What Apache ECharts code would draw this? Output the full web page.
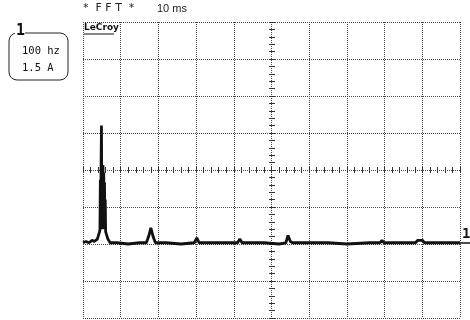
<!DOCTYPE html>
<html>
<head>
<meta charset="utf-8">
<script src="https://cdn.jsdelivr.net/npm/echarts@6.0.0/dist/echarts.min.js"></script>
<style>
  html, body { margin: 0; padding: 0; background: #fff; }
  #main { width: 470px; height: 320px; }
</style>
</head>
<body>
<div id="main"></div>
<script>
// FFT trace: frequency in Hz, amplitude in A (baseline = 0)
var freqs = [0, 8, 16, 24, 30, 34, 38, 42, 44,
             45, 46, 47, 48, 49, 50, 51, 52, 53, 54, 55, 56, 57, 58, 59, 60,
             62, 66, 72,
             90, 120, 150, 168, 174, 180, 186, 192, 220, 260, 295, 302, 308, 360, 410, 416, 422,
             480, 520, 538, 544, 550, 556, 600, 650, 700, 760, 788, 793, 798, 850, 882, 888, 900, 906, 950, 1000];
var amps = [0.05, 0.1, 0.05, 0.15, 0.1, 0.05, 0.2, 0.4, 0.5,
            0.6, 2.6, 0.7, 3.3, 4.8, 0.8, 3.1, 0.6, 3.2, 0.7, 2.9, 0.6, 2.5, 0.7, 1.8, 0.5,
            0.4, 0.2, 0.05,
            0.05, 0.0, 0.05, 0.05, 0.3, 0.65, 0.3, 0.05, 0.05, 0.0, 0.05, 0.25, 0.05, 0.05, 0.05, 0.2, 0.05,
            0.05, 0.0, 0.05, 0.35, 0.1, 0.05, 0.05, 0.05, 0.0, 0.05, 0.05, 0.15, 0.05, 0.05, 0.05, 0.15, 0.15, 0.05, 0.05, 0.05];

var xMin = 0, xMax = 1000, xStep = 100;     // 100 hz / div
var yMin = -3, yMax = 9, yStep = 1.5;       // 1.5 A / div

var headerText = '*  F F T  *';
var timeText = '10 ms';
var brandText = 'LeCroy';
var scaleLines = ['100 hz', '1.5 A'];
var channel = '1';

var myChart = echarts.init(document.getElementById('main'));

var gridColor = '#444';
var tickColor = '#333';

function tickAxis(pos, offset, inside, isX) {
    var ax = {
        type: 'value',
        min: isX ? xMin : yMin,
        max: isX ? xMax : yMax,
        interval: isX ? xStep : yStep,
        position: pos,
        offset: offset,
        axisLine: { show: false },
        axisTick: { show: true, inside: inside, length: 3, lineStyle: { color: tickColor, width: 1 } },
        minorTick: { show: true, splitNumber: 5, length: 3, lineStyle: { color: tickColor, width: 1 } },
        axisLabel: { show: false },
        splitLine: { show: false }
    };
    return ax;
}

var data = freqs.map(function (f, i) { return [f, amps[i]]; });

var option = {
    animation: false,
    backgroundColor: '#fff',
    grid: { left: 83, right: 10, top: 22, bottom: 2 },
    xAxis: [
        {
            type: 'value', min: xMin, max: xMax, interval: xStep,
            axisLine: { show: false }, axisTick: { show: false }, axisLabel: { show: false },
            splitLine: { show: true, lineStyle: { type: 'dotted', color: gridColor, width: 1 } }
        },
        tickAxis('top', -148, false, true),
        tickAxis('top', -148, true, true)
    ],
    yAxis: [
        {
            type: 'value', min: yMin, max: yMax, interval: yStep,
            axisLine: { show: false }, axisTick: { show: false }, axisLabel: { show: false },
            splitLine: { show: true, lineStyle: { type: 'dotted', color: gridColor, width: 1 } }
        },
        tickAxis('left', -189, false, false),
        tickAxis('left', -189, true, false)
    ],
    series: [{
        type: 'line',
        xAxisIndex: 0,
        yAxisIndex: 0,
        data: data,
        showSymbol: false,
        lineStyle: { color: '#111', width: 2.8 },
        z: 5
    }],
    graphic: [
        { type: 'text', left: 83, top: 3, style: { text: headerText, font: '11px "DejaVu Sans"', fill: '#222' } },
        { type: 'text', left: 157, top: 3, style: { text: timeText, font: '11px "Liberation Sans"', fill: '#222' } },
        { type: 'text', left: 84, top: 23, z: 10, style: { text: brandText, font: 'bold 9px "DejaVu Sans"', fill: '#111' } },
        { type: 'line', z: 10, shape: { x1: 84, y1: 34, x2: 114, y2: 34 }, style: { stroke: '#111', lineWidth: 1 } },
        { type: 'rect', shape: { x: 9, y: 33, width: 59, height: 47, r: 8 }, style: { fill: 'none', stroke: '#222', lineWidth: 1 } },
        { type: 'rect', shape: { x: 15, y: 28, width: 10, height: 10 }, style: { fill: '#fff' } },
        { type: 'text', left: 16, top: 24, style: { text: channel, font: 'bold 15px "DejaVu Sans Mono"', fill: '#111' } },
        { type: 'text', left: 22, top: 46, style: { text: scaleLines[0], font: '10.5px "DejaVu Sans Mono"', fill: '#111' } },
        { type: 'text', left: 22, top: 63, style: { text: scaleLines[1], font: '10.5px "DejaVu Sans Mono"', fill: '#111' } },
        { type: 'line', shape: { x1: 456, y1: 243, x2: 470, y2: 243 }, style: { stroke: '#111', lineWidth: 1.5 } },
        { type: 'text', left: 462, top: 227, style: { text: channel, font: 'bold 14px "DejaVu Sans Mono"', fill: '#111' } }
    ]
};

myChart.setOption(option, true);
</script>
</body>
</html>
